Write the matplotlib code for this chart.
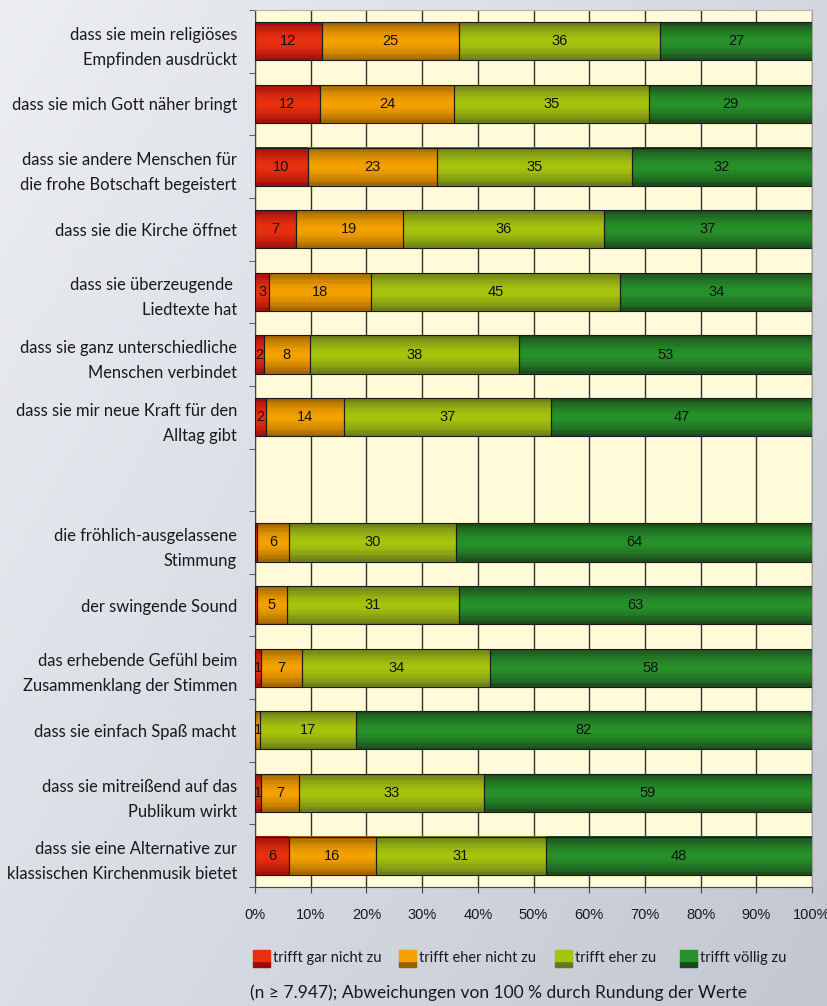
import matplotlib.pyplot as plt
import numpy as np
from matplotlib.colors import to_rgb
from matplotlib.patches import Rectangle

labels = [
    'dass sie mein religiöses\nEmpfinden ausdrückt',
    'dass sie mich Gott näher bringt',
    'dass sie andere Menschen für\ndie frohe Botschaft begeistert',
    'dass sie die Kirche öffnet',
    'dass sie überzeugende \nLiedtexte hat',
    'dass sie ganz unterschiedliche\nMenschen verbindet',
    'dass sie mir neue Kraft für den\nAlltag gibt',
    'die fröhlich-ausgelassene\nStimmung',
    'der swingende Sound',
    'das erhebende Gefühl beim\nZusammenklang der Stimmen',
    'dass sie einfach Spaß macht',
    'dass sie mitreißend auf das\nPublikum wirkt',
    'dass sie eine Alternative zur\nklassischen Kirchenmusik bietet',
]
# slot 7 stays empty (gap between the two groups)
pos = list(range(7)) + list(range(8, 14))

# shares in % (labels show rounded values)
gar_nicht = [12.0, 11.6, 9.5, 7.3, 2.6, 1.6, 2.0, 0.4, 0.4, 1.1, 0.0, 1.1, 6.1]
eher_nicht = [24.6, 24.2, 23.2, 19.3, 18.3, 8.2, 14.0, 5.7, 5.3, 7.4, 0.9, 6.8, 15.6]
eher = [36.1, 35.0, 35.0, 36.0, 44.7, 37.6, 37.1, 30.0, 30.9, 33.7, 17.2, 33.2, 30.6]
voellig = [27.3, 29.2, 32.3, 37.4, 34.4, 52.6, 46.9, 63.9, 63.4, 57.8, 81.9, 58.9, 47.7]

legend_labels = ['trifft gar nicht zu', 'trifft eher nicht zu', 'trifft eher zu', 'trifft völlig zu']
xticks = list(range(0, 101, 10))

centers = ['#e8300e', '#f5a200', '#a6c40c', '#27922a']
edges = ['#9a0c0c', '#9a6000', '#66771c', '#1b461b']

W, H = 827, 1006
fig = plt.figure(figsize=(W / 100, H / 100), dpi=100)

# background gradient
bg = fig.add_axes([0, 0, 1, 1], zorder=-10)
yy, xx = np.mgrid[0:1:200j, 0:1:200j]
g = 0.6 * xx + 0.4 * yy
c0 = np.array(to_rgb('#eceef2'))
c1 = np.array(to_rgb('#c2c7d2'))
bg.imshow(c0 + (c1 - c0) * g[..., None], aspect='auto', extent=[0, 1, 0, 1], origin='upper')
bg.axis('off')

ax = fig.add_axes([255 / W, 1 - 887 / H, 557 / W, 877 / H])
ax.set_facecolor('#fffad8')

h = 0.61
nstrip = 15
left = np.zeros(len(pos))
for vals, cc, ec in zip([gar_nicht, eher_nicht, eher, voellig], centers, edges):
    vals = np.array(vals, float)
    for k in range(nstrip):
        t = (k + 0.5) / nstrip * 2 - 1
        w = abs(t) ** 1.6
        col = (1 - w) * np.array(to_rgb(cc)) + w * np.array(to_rgb(ec))
        off = -h / 2 + (k + 0.5) * h / nstrip
        ax.barh(np.array(pos) + off, vals, height=h / nstrip * 1.08, left=left,
                color=col, lw=0, zorder=2)
    ax.barh(pos, vals, height=h, left=left, facecolor='none',
            edgecolor='#1a1a1a', lw=0.8, zorder=3)
    for p, l, v in zip(pos, left, vals):
        if round(v) >= 1:
            ax.text(l + v / 2, p, f'{round(v)}', ha='center', va='center',
                    fontsize=10.5, family='Liberation Sans', color='#111111', zorder=4)
    left += vals

ax.set_xlim(0, 100)
ax.set_ylim(13.5, -0.5)
ax.set_xticks(xticks, labels=[f'{v}%' for v in xticks])
ax.set_yticks(pos, labels=labels)
ax.set_yticks(np.arange(-0.5, 14, 1), minor=True)
ax.tick_params(axis='y', which='major', length=0, pad=13)
ax.tick_params(axis='y', which='minor', length=4, color='#444444')
ax.tick_params(axis='x', length=4, color='#444444', pad=11)
for t in ax.get_yticklabels():
    t.set_family(['Lato', 'DejaVu Sans'])
    t.set_fontsize(11.9)
    t.set_linespacing(1.7)
    t.set_color('#1a1a1a')
for t in ax.get_xticklabels():
    t.set_family('Liberation Sans')
    t.set_fontsize(10.5)
    t.set_color('#1a1a1a')
ax.grid(axis='x', color='#333333', lw=1)
ax.set_axisbelow(True)
ax.spines['left'].set_color('#444444')
ax.spines['bottom'].set_color('#444444')
ax.spines['top'].set_color('#b0b0b0')
ax.spines['right'].set_color('#a0a0a0')

# legend
leg_x = [253, 399, 555, 680]
for x0, lab, cc, ec in zip(leg_x, legend_labels, centers, edges):
    fig.patches.append(Rectangle((x0 / W, 1 - 967 / H), 17 / W, 6 / H,
                                 transform=fig.transFigure, color=ec))
    fig.patches.append(Rectangle((x0 / W, 1 - 961 / H), 17 / W, 11 / H,
                                 transform=fig.transFigure, color=cc))
    fig.text((x0 + 20) / W, 1 - 958 / H, lab, fontsize=10.5, family=['Lato', 'DejaVu Sans'],
             va='center', color='#1a1a1a')

fig.text(250 / W, 1 - 993 / H, '(n ≥ 7.947); Abweichungen von 100 % durch Rundung der Werte',
         fontsize=12.5, family=['Lato', 'DejaVu Sans'], va='center', color='#1a1a1a')

fig.savefig('out.png', dpi=100)
